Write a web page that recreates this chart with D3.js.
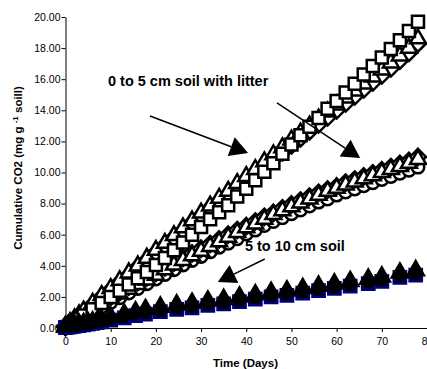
<!DOCTYPE html>
<html>
<head>
<meta charset="utf-8">
<script src="https://cdn.jsdelivr.net/npm/d3@7"></script>
<style>
  body { margin: 0; background: #fff; }
  svg { display: block; font-family: "Liberation Sans", Arial, sans-serif; }
</style>
</head>
<body>
<svg id="chart" width="427" height="369"></svg>
<script>
// sampling days (upper two groups)
const days = [0,1,2,3,4,6,8,10,12,14,16,18,20,22,24,26,28,30,32,34,36,38,40,42,44,46,48,50,52,54,56,58,60,62,64,66,68,70,72,74,76,78];

// 0 to 5 cm soil with litter - upper band
const litterSquares = [0.05,0.2,0.4,0.6,0.8,1.2,1.6,2.0,2.4,2.8,3.2,3.6,4.05,4.5,5.0,5.5,6.0,6.5,7.0,7.45,7.9,8.45,8.95,9.5,10.05,10.6,11.2,11.8,12.4,12.95,13.5,14.1,14.6,15.15,15.7,16.3,16.85,17.4,17.95,18.5,19.1,19.7];
const litterDiamonds = [0.1,0.3,0.55,0.8,1.05,1.5,2.0,2.45,2.95,3.4,3.9,4.35,4.85,5.3,5.8,6.25,6.75,7.2,7.7,8.15,8.6,9.05,9.5,9.95,10.4,10.85,11.3,11.75,12.2,12.65,13.1,13.55,14.0,14.45,14.9,15.35,15.8,16.25,16.7,17.2,17.7,18.3];
const litterTriangles = [0.1,0.35,0.6,0.85,1.1,1.6,2.1,2.55,3.05,3.55,4.0,4.5,5.0,5.45,5.95,6.45,6.9,7.4,7.85,8.35,8.8,9.3,9.75,10.2,10.7,11.15,11.6,12.1,12.55,13.0,13.45,13.9,14.35,14.8,15.25,15.7,16.15,16.6,17.05,17.5,18.0,18.6];

// 0 to 5 cm soil with litter - middle band
const midTriangles = [0.05,0.25,0.45,0.65,0.85,1.2,1.55,1.9,2.2,2.5,2.8,3.1,3.4,3.75,4.05,4.35,4.65,4.95,5.25,5.55,5.85,6.15,6.45,6.7,7.0,7.3,7.55,7.8,8.05,8.3,8.55,8.8,9.0,9.2,9.4,9.6,9.8,10.0,10.2,10.4,10.6,10.85];
const midCircles = [0.02,0.2,0.38,0.55,0.72,1.05,1.35,1.65,1.95,2.25,2.55,2.85,3.15,3.45,3.75,4.05,4.35,4.6,4.9,5.2,5.45,5.75,6.05,6.3,6.6,6.85,7.1,7.35,7.6,7.85,8.1,8.3,8.55,8.75,8.95,9.15,9.35,9.55,9.75,9.95,10.15,10.35];
const midDiamonds = [0.05,0.3,0.5,0.7,0.9,1.3,1.65,2.0,2.3,2.65,2.95,3.25,3.55,3.9,4.2,4.5,4.8,5.1,5.4,5.7,6.0,6.3,6.55,6.85,7.15,7.4,7.7,7.95,8.2,8.45,8.7,8.9,9.1,9.35,9.55,9.75,9.95,10.15,10.35,10.55,10.75,11.0];

// 5 to 10 cm soil
const lowDays = [0,0.5,1,1.5,2,3,4,5,6,7,8,10,13,15.5,17.7,21,24.6,28,31.5,35,38.5,42,45.5,49,52.5,56,59.5,63,67,70,74,77.5];
const lowSquares = [0.03,0.05,0.08,0.1,0.12,0.16,0.2,0.25,0.3,0.35,0.4,0.5,0.65,0.8,0.9,1.05,1.2,1.3,1.45,1.55,1.7,1.85,2.0,2.1,2.25,2.4,2.55,2.7,2.85,3.0,3.25,3.4];
const lowTriangles = [0.1,0.12,0.15,0.18,0.2,0.25,0.3,0.35,0.4,0.45,0.5,0.7,0.9,1.05,1.2,1.35,1.5,1.6,1.75,1.85,2.0,2.15,2.3,2.4,2.55,2.7,2.85,3.0,3.15,3.3,3.55,3.7];

const xTicks = [0,10,20,30,40,50,60,70,80];
const yTicks = [0,2,4,6,8,10,12,14,16,18,20];

const svg = d3.select('#chart');
const x = d3.scaleLinear().domain([0, 80]).range([65.5, 427]);
const y = d3.scaleLinear().domain([0, 20]).range([328, 17]);

// square rotated 45deg, like the spreadsheet diamond
const diamond = {
  draw(ctx, size) {
    const r = Math.sqrt(size / 2);
    ctx.moveTo(0, -r); ctx.lineTo(r, 0); ctx.lineTo(0, r); ctx.lineTo(-r, 0); ctx.closePath();
  }
};

const series = [
  { days: days, values: midCircles, type: d3.symbolCircle, size: 125, fill: '#fff', stroke: '#000' },
  { days: days, values: midDiamonds, type: diamond, size: 130, fill: '#fff', stroke: '#000' },
  { days: days, values: midTriangles, type: d3.symbolTriangle, size: 110, fill: '#fff', stroke: '#000' },
  { days: days, values: litterDiamonds, type: diamond, size: 135, fill: '#fff', stroke: '#000' },
  { days: days, values: litterTriangles, type: d3.symbolTriangle, size: 110, fill: '#fff', stroke: '#000' },
  { days: days, values: litterSquares, type: d3.symbolSquare, size: 144, fill: '#fff', stroke: '#000' },
  { days: lowDays, values: lowSquares, type: d3.symbolSquare, size: 150, fill: '#000', stroke: '#000080' },
  { days: lowDays, values: lowTriangles, type: d3.symbolTriangle, size: 115, fill: '#000', stroke: '#000' }
];

// axes
const yAxis = svg.append('g')
  .attr('transform', `translate(${x(0)},0)`)
  .call(d3.axisLeft(y).tickValues(yTicks).tickFormat(d3.format('.2f')).tickSize(4).tickSizeOuter(0).tickPadding(1));
const xAxis = svg.append('g')
  .attr('transform', `translate(0,${y(0)})`)
  .call(d3.axisBottom(x).tickValues(xTicks).tickFormat(d3.format('d')).tickSize(4).tickSizeOuter(0).tickPadding(6));
[yAxis, xAxis].forEach(a => {
  a.selectAll('path,line').attr('stroke', '#000').attr('stroke-width', 1);
  a.selectAll('text').attr('font-size', 10.5).attr('fill', '#000').attr('font-family', '"Liberation Sans", Arial, sans-serif');
});

// markers
series.forEach(s => {
  svg.append('g')
    .selectAll('path')
    .data(s.values.map((v, i) => ({ day: s.days[i], value: v })))
    .enter()
    .append('path')
    .attr('transform', d => `translate(${x(d.day)},${y(d.value)})`)
    .attr('d', d3.symbol().type(s.type).size(s.size))
    .attr('fill', s.fill)
    .attr('stroke', s.stroke)
    .attr('stroke-width', 2.5);
});

// axis titles
svg.append('text')
  .attr('x', 245.5).attr('y', 367)
  .attr('text-anchor', 'middle')
  .attr('font-size', 11.5).attr('font-weight', 'bold')
  .text('Time (Days)');

const yTitle = svg.append('text')
  .attr('transform', 'translate(22,168) rotate(-90)')
  .attr('text-anchor', 'middle')
  .attr('font-size', 11.5).attr('font-weight', 'bold');
yTitle.append('tspan').text('Cumulative CO2 (mg g ');
yTitle.append('tspan').attr('font-size', 8).attr('dy', -4).text('-1');
yTitle.append('tspan').attr('dy', 4).text(' soill)');

// annotations (positions in data units)
const labels = [
  { text: '0 to 5 cm soil with litter', day: 9.4, value: 15.56 },
  { text: '5 to 10 cm soil', day: 39.7, value: 4.95 }
];
svg.append('g')
  .selectAll('text')
  .data(labels)
  .enter()
  .append('text')
  .attr('x', d => x(d.day))
  .attr('y', d => y(d.value))
  .attr('font-size', 14.5)
  .attr('font-weight', 'bold')
  .text(d => d.text);

const arrows = [
  { from: [18.7, 13.63], to: [40.4, 11.25] },
  { from: [46.8, 14.47], to: [65.2, 10.93] },
  { from: [44.1, 4.44], to: [33.7, 2.96] }
];
arrows.forEach(a => {
  const x1 = x(a.from[0]), y1 = y(a.from[1]);
  const x2 = x(a.to[0]), y2 = y(a.to[1]);
  const len = Math.hypot(x2 - x1, y2 - y1);
  const ux = (x2 - x1) / len, uy = (y2 - y1) / len;
  const bx = x2 - 18 * ux, by = y2 - 18 * uy;
  svg.append('line')
    .attr('x1', x1).attr('y1', y1).attr('x2', bx).attr('y2', by)
    .attr('stroke', '#000').attr('stroke-width', 1.5);
  svg.append('polygon')
    .attr('points', [[x2, y2], [bx - 10 * uy, by + 10 * ux], [bx + 10 * uy, by - 10 * ux]].map(p => p.join(',')).join(' '))
    .attr('fill', '#000');
});
</script>
</body>
</html>
